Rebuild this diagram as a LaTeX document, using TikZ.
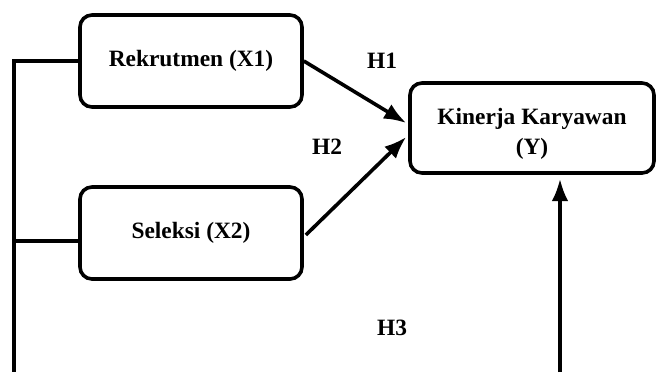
\documentclass[tikz,border=0pt]{standalone}
\usepackage{fontspec}
\setmainfont{Liberation Serif}
\usepackage{tikz}
\usetikzlibrary{arrows.meta,calc,positioning}

\begin{document}
\begin{tikzpicture}[x=0.5pt,y=-0.5pt,>=Latex,line width=1.8pt,
  varbox/.style={draw,rounded corners=6pt,minimum width=111pt,minimum height=46pt,align=center,
    font=\fontsize{11.7}{15}\selectfont\bfseries},
  hyp/.style={font=\fontsize{11.7}{14}\selectfont\bfseries}]
  \useasboundingbox (0,0) rectangle (657,372);
  % variables
  \node[varbox] (rek) at (191,61) {Rekrutmen (X1)};
  \node[varbox] (sel) at (191,233) {Seleksi (X2)};
  \node[varbox,minimum width=122pt,minimum height=45pt] (kin) at (532,128)
    {\raisebox{-2.5pt}[\height][\depth]{\begin{tabular}{@{}c@{}}Kinerja Karyawan\\(Y)\end{tabular}}};
  % hypotheses
  \node[hyp] (h1) at (382,61) {H1};
  \node[hyp] (h2) at (327,147) {H2};
  \node[hyp] (h3) at (392,328) {H3};
  % free ends at the lower edge
  \coordinate (leftend) at (14,372);
  \coordinate (rightend) at (560,372);
  \draw (rek.west) -| (leftend);
  \draw ($(sel.west)+(0,8)$) -- ($(sel.west -| leftend)+(0,8)$);
  \draw[->] (rek.east) -- ($(kin.west)+(-2,-5)$);
  \draw[->] ($(sel.east)+(2,2)$) -- ($(kin.west)+(-2,9)$);
  \draw[->,shorten >=2pt] (rightend) -- (rightend |- kin.south);
\end{tikzpicture}
\end{document}
